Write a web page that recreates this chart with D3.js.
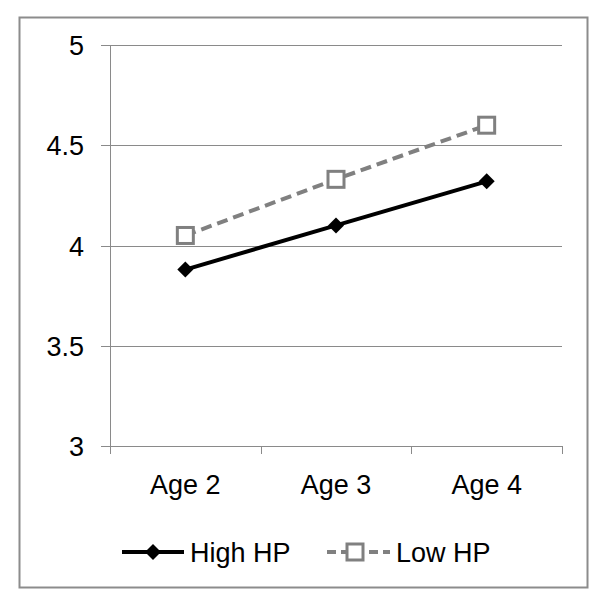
<!DOCTYPE html>
<html><head><meta charset="utf-8">
<script src="https://cdn.jsdelivr.net/npm/d3@7"></script>
<style>body{margin:0;background:#fff}svg{display:block}text{font-family:"Liberation Sans",Arial,sans-serif;fill:#000}</style>
</head><body>
<script>
const categories = ["Age 2", "Age 3", "Age 4"];
const highHP = [3.88, 4.10, 4.32];
const lowHP = [4.05, 4.33, 4.60];
const yTicks = [3, 3.5, 4, 4.5, 5];
const yTickLabels = ["3", "3.5", "4", "4.5", "5"];
const seriesNames = ["High HP", "Low HP"];

const W = 600, H = 601;
const svg = d3.select("body").append("svg").attr("width", W).attr("height", H);
svg.append("rect").attr("x", 19.5).attr("y", 17.5).attr("width", 568).attr("height", 570)
  .attr("fill", "#fff").attr("stroke", "#8c8c8c").attr("stroke-width", 2);

const L = 110, R = 562, T = 45, B = 446;
const x = d3.scaleBand().domain(categories).range([L, R]);
const y = d3.scaleLinear().domain([3, 5]).range([B, T]);
const grid = "#8a8a8a";

// gridlines
svg.append("g").selectAll("line").data(yTicks).join("line")
  .attr("x1", L - 9).attr("x2", R).attr("y1", d => Math.round(y(d)) + 0.5).attr("y2", d => Math.round(y(d)) + 0.5)
  .attr("stroke", grid).attr("stroke-width", 1);
// y axis line
svg.append("line").attr("x1", L + 0.5).attr("x2", L + 0.5).attr("y1", T).attr("y2", B)
  .attr("stroke", grid);
// x ticks at band edges
const edges = categories.map(c => x(c)).concat([R]);
svg.append("g").selectAll("line").data(edges).join("line")
  .attr("x1", d => Math.round(d) + 0.5).attr("x2", d => Math.round(d) + 0.5)
  .attr("y1", B).attr("y2", B + 8).attr("stroke", grid);

// y labels
svg.append("g").selectAll("text").data(yTicks).join("text")
  .attr("x", 84).attr("y", d => y(d) + 10).attr("text-anchor", "end")
  .attr("font-size", 27).text((d, i) => yTickLabels[i]);
// x labels
svg.append("g").selectAll("text").data(categories).join("text")
  .attr("x", d => x(d) + x.bandwidth() / 2).attr("y", 494).attr("text-anchor", "middle")
  .attr("font-size", 27).text(d => d);

const cx = d => x(d) + x.bandwidth() / 2;
const line = d3.line().x((d, i) => cx(categories[i])).y(d => y(d));

// Low HP
svg.append("path").attr("d", line(lowHP)).attr("fill", "none").attr("stroke", "#808080")
  .attr("stroke-width", 4).attr("stroke-dasharray", "11,6");
svg.append("g").selectAll("rect").data(lowHP).join("rect")
  .attr("x", (d, i) => cx(categories[i]) - 8).attr("y", d => y(d) - 8)
  .attr("width", 16).attr("height", 16).attr("fill", "#fff").attr("stroke", "#808080").attr("stroke-width", 3);

// High HP
svg.append("path").attr("d", line(highHP)).attr("fill", "none").attr("stroke", "#000")
  .attr("stroke-width", 4);
const diamond = "M0,-8L8,0L0,8L-8,0Z";
svg.append("g").selectAll("path").data(highHP).join("path")
  .attr("d", diamond).attr("transform", (d, i) => `translate(${cx(categories[i])},${y(d)})`)
  .attr("fill", "#000");

// legend
const ly = 552;
svg.append("line").attr("x1", 122).attr("x2", 184).attr("y1", ly).attr("y2", ly).attr("stroke", "#000").attr("stroke-width", 4);
svg.append("path").attr("d", diamond).attr("transform", `translate(153,${ly})`).attr("fill", "#000");
svg.append("text").attr("x", 190).attr("y", ly + 10).attr("font-size", 27).text(seriesNames[0]);
svg.append("line").attr("x1", 327).attr("x2", 390).attr("y1", ly).attr("y2", ly).attr("stroke", "#808080")
  .attr("stroke-width", 4).attr("stroke-dasharray", "9,5");
svg.append("rect").attr("x", 355 - 8).attr("y", ly - 8).attr("width", 16).attr("height", 16)
  .attr("fill", "#fff").attr("stroke", "#808080").attr("stroke-width", 3);
svg.append("text").attr("x", 396).attr("y", ly + 10).attr("font-size", 27).text(seriesNames[1]);
</script>
</body></html>
